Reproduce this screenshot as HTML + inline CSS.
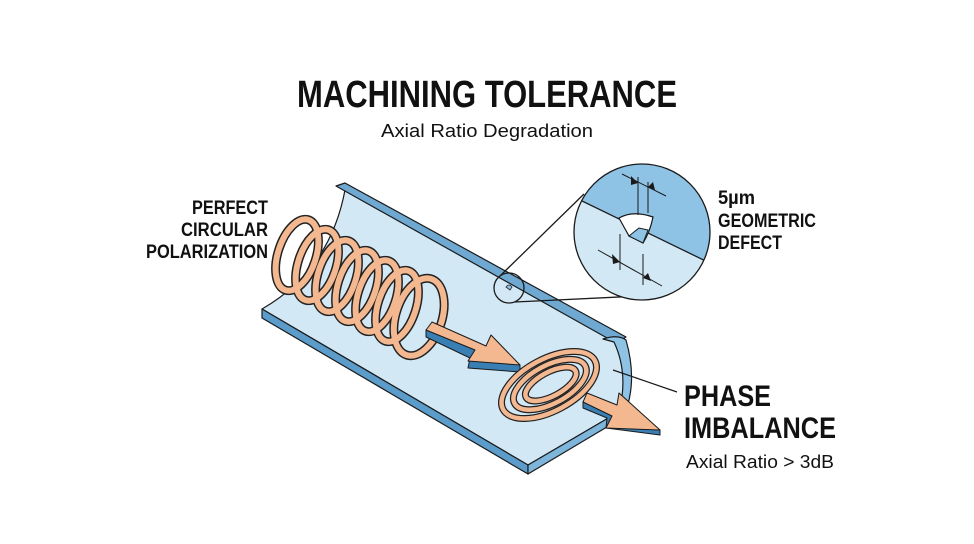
<!DOCTYPE html>
<html><head><meta charset="utf-8"><style>
html,body{margin:0;padding:0;background:#fff;}
svg{display:block}
text{font-family:"Liberation Sans",sans-serif;fill:#111}
</style></head><body>
<svg width="974" height="544" viewBox="0 0 974 544" xmlns="http://www.w3.org/2000/svg">
<rect width="974" height="544" fill="#fff"/>
<text x="487" y="107" text-anchor="middle" font-size="38" font-weight="bold" textLength="380" lengthAdjust="spacingAndGlyphs">MACHINING TOLERANCE</text>
<text x="487" y="137" text-anchor="middle" font-size="18" textLength="212" lengthAdjust="spacingAndGlyphs">Axial Ratio Degradation</text>

<g font-weight="bold" font-size="19" text-anchor="end">
<text x="268" y="214" textLength="76" lengthAdjust="spacingAndGlyphs">PERFECT</text>
<text x="268" y="236" textLength="87" lengthAdjust="spacingAndGlyphs">CIRCULAR</text>
<text x="268" y="258" textLength="122" lengthAdjust="spacingAndGlyphs">POLARIZATION</text>
</g>
<g font-weight="bold" font-size="19">
<text x="718" y="204" textLength="37" lengthAdjust="spacingAndGlyphs">5µm</text>
<text x="718" y="227" textLength="98" lengthAdjust="spacingAndGlyphs">GEOMETRIC</text>
<text x="718" y="249" textLength="64" lengthAdjust="spacingAndGlyphs">DEFECT</text>
</g>
<text x="684" y="406" font-size="30" font-weight="bold" textLength="87" lengthAdjust="spacingAndGlyphs">PHASE</text>
<text x="684" y="438" font-size="30" font-weight="bold" textLength="152" lengthAdjust="spacingAndGlyphs">IMBALANCE</text>
<text x="686" y="468" font-size="18" textLength="148" lengthAdjust="spacingAndGlyphs">Axial Ratio &gt; 3dB</text>

<!-- trough -->
<g stroke="#1a1a1a" stroke-width="1.2" stroke-linejoin="round">
<path d="M345,190 L616,340 Q628,375 622,410 L528,465 L262,309 Q330,270 345,190 Z" fill="#d3e8f5"/>
<path d="M336,186 L345,183 L626,337 L616,343 Z" fill="#6fa9d2"/>
<path d="M262,309 L528,465 L528,474 L262,318 Z" fill="#5b9ccb"/>
<path d="M528,465 L622,410 L622,418 L528,474 Z" fill="#7db5db"/>
<path d="M603,339 Q618,334 626,340 Q636,375 628,404 L620,408 Q628,372 614,342 Z" fill="#8ec3e6"/>
</g>

<!-- coil -->
<g fill="none">
<g stroke="#222" stroke-width="9">
<ellipse cx="297" cy="255" rx="19" ry="37" transform="rotate(18 297 255)"/>
<ellipse cx="317" cy="265" rx="19" ry="37" transform="rotate(18 317 265)"/>
<ellipse cx="337" cy="276" rx="19" ry="37" transform="rotate(18 337 276)"/>
<ellipse cx="357" cy="286" rx="19" ry="37" transform="rotate(18 357 286)"/>
<ellipse cx="377" cy="296" rx="19" ry="37" transform="rotate(18 377 296)"/>
<ellipse cx="397" cy="306" rx="19" ry="37" transform="rotate(18 397 306)"/>
<ellipse cx="419" cy="317" rx="23" ry="40" transform="rotate(18 419 317)"/>
</g>
<g stroke="#f3b890" stroke-width="6">
<ellipse cx="297" cy="255" rx="19" ry="37" transform="rotate(18 297 255)"/>
<ellipse cx="317" cy="265" rx="19" ry="37" transform="rotate(18 317 265)"/>
<ellipse cx="337" cy="276" rx="19" ry="37" transform="rotate(18 337 276)"/>
<ellipse cx="357" cy="286" rx="19" ry="37" transform="rotate(18 357 286)"/>
<ellipse cx="377" cy="296" rx="19" ry="37" transform="rotate(18 377 296)"/>
<ellipse cx="397" cy="306" rx="19" ry="37" transform="rotate(18 397 306)"/>
<ellipse cx="419" cy="317" rx="23" ry="40" transform="rotate(18 419 317)"/>
</g>
</g>

<!-- arrow 1 -->
<g stroke="#1a1a1a" stroke-width="1" stroke-linejoin="round">
<path d="M426,330 L426,337 L470,358 L468,368 L520,372 L520,365 Z" fill="#3a7fb4"/>
<path d="M432,322 L486,346 L491,335 L520,365 L468,361 L475,350 L426,330 Z" fill="#f3b890"/>
</g>
<!-- spiral -->
<g fill="none" transform="rotate(-28 549 385)">
<g stroke="#222" stroke-width="7">
<ellipse cx="549" cy="385" rx="52" ry="26"/>
<ellipse cx="550" cy="385" rx="40" ry="19"/>
<ellipse cx="551" cy="385" rx="28" ry="12"/>
</g>
<g stroke="#f3b890" stroke-width="4.5">
<ellipse cx="549" cy="385" rx="52" ry="26"/>
<ellipse cx="550" cy="385" rx="40" ry="19"/>
<ellipse cx="551" cy="385" rx="28" ry="12"/>
</g>
</g>
<!-- arrow 2 -->
<g stroke="#1a1a1a" stroke-width="1" stroke-linejoin="round">
<path d="M583,402 L583,408 L607,418 L606,428 L660,435 L660,430 Z" fill="#3a7fb4"/>
<path d="M587,393 L617,405 L619,393 L660,430 L606,428 L612,416 L583,402 Z" fill="#f3b890"/>
</g>

<!-- magnifier -->
<g stroke="#1a1a1a" stroke-width="1.3" fill="none">
<circle cx="509" cy="288" r="15"/>
<line x1="500" y1="276" x2="584" y2="194"/>
<line x1="515" y1="302" x2="640" y2="296"/>
</g>
<path d="M506,287 q3,-4 6,0 l-2,3 z" fill="#8ec3e6" stroke="#222" stroke-width="0.8"/>
<defs><clipPath id="c"><circle cx="642" cy="232" r="68"/></clipPath></defs>
<g clip-path="url(#c)">
<rect x="570" y="160" width="150" height="150" fill="#d3e8f5"/>
<path d="M570,160 L720,160 L720,268 L582,200 L570,200 Z" fill="#8ec3e6"/>
<line x1="578" y1="199" x2="720" y2="268" stroke="#1a1a1a" stroke-width="1.3"/>
<path d="M619,218 Q633,210 653,217 Q650,232 643,243 L629,236 Z" fill="#fff" stroke="#1a1a1a" stroke-width="1.2"/>
<path d="M629,236 L639,228 L648,230 L643,243 Z" fill="#8ec3e6" stroke="#1a1a1a" stroke-width="1"/>
<g stroke="#1a1a1a" stroke-width="1">
<line x1="622" y1="174" x2="666" y2="196"/>
<line x1="638" y1="177" x2="638" y2="215"/>
<line x1="648" y1="182" x2="648" y2="213"/>
<line x1="598" y1="250" x2="662" y2="286"/>
<line x1="620" y1="234" x2="620" y2="270"/>
<line x1="643" y1="254" x2="643" y2="285"/>
</g>
<path d="M631,176 l7,7 l-7,2 z M655,190 l-7,-3 l5,-5 z M612,254 l8,8 l-7,2 z M651,281 l-8,-3 l5,-5 z" fill="#1a1a1a"/>
</g>
<circle cx="642" cy="232" r="68" fill="none" stroke="#1a1a1a" stroke-width="1.3"/>
<line x1="613" y1="370" x2="677" y2="392" stroke="#1a1a1a" stroke-width="1.2"/>
</svg>
</body></html>
